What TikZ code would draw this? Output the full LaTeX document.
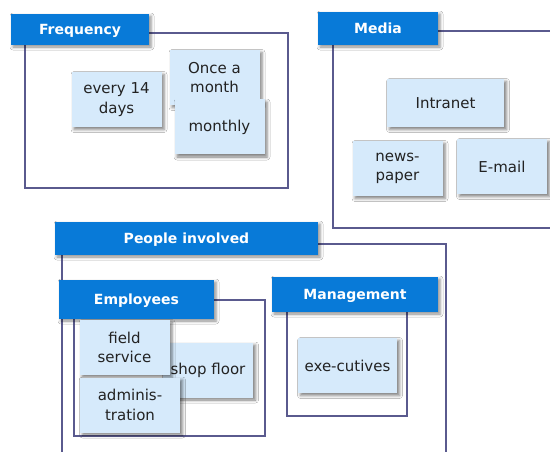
\documentclass[tikz,border=0pt]{standalone}
\usepackage{fontspec}
\setmainfont{DejaVu Sans}
\usetikzlibrary{shadows.blur}

\definecolor{headblue}{RGB}{8,122,216}
\definecolor{cardblue}{RGB}{214,234,251}
\definecolor{framecol}{RGB}{90,90,142}
\definecolor{textgray}{RGB}{34,34,34}

\begin{document}
\begin{tikzpicture}[x=1pt,y=-1pt,
  frame/.style = {draw=framecol, line width=1.4pt},
  head/.style = {fill=headblue, text=white, font=\fontsize{14}{16}\selectfont\bfseries,
    inner sep=0pt, text height=10pt, text depth=0pt,
    blur shadow={shadow xshift=2pt, shadow yshift=-2pt,
    shadow blur radius=3pt, shadow opacity=45}},
  card/.style = {fill=cardblue, text=textgray, font=\fontsize{15}{19.5}\selectfont,
    align=center, inner sep=0pt, minimum height=55pt, minimum width=90pt,
    blur shadow={shadow xshift=2.5pt, shadow yshift=-2.5pt,
    shadow blur radius=3pt, shadow opacity=50}},
]
\clip (0,0) rectangle (550,452);
\fill[white] (0,0) rectangle (550,452);

% frames
\draw[frame] (25,33) rectangle (288,188);
\draw[frame] (333,31) rectangle (570,228);
\draw[frame] (62,244) rectangle (446,480);
\draw[frame] (74,300) rectangle (265,436);
\draw[frame] (287,305) rectangle (407,416);

% frequency
\node[head, minimum width=138pt, minimum height=31pt] (freq) at (80,29.5) {Frequency};
\node[card] (days) at (116.5,99.5) {every 14\\days};
\node[card] (once) at (214.5,77.5) {Once a\\month};
\node[card] (monthly) at (219.5,127) {monthly};

% media
\node[head, minimum width=120pt, minimum height=33pt] (media) at (378,28.5) {Media};
\node[card, minimum width=117pt, minimum height=48pt] (intranet) at (445.5,103) {Intranet};
\node[card] (paper) at (397.5,168.5) {news-\\paper};
\node[card] (email) at (502,166.5) {E-mail};

% people
\node[head, minimum width=263pt, minimum height=33pt] (people) at (186.5,238.5) {People involved};
\node[head, minimum width=155pt, minimum height=39pt] (staff) at (136.5,299.5) {Employees};
\node[head, minimum width=166pt, minimum height=35pt] (mgmt) at (355,294.5) {Management};

\node[card] (shop) at (208,370) {shop floor};
\node[card] (field) at (124.5,347.5) {field\\service};
\node[card, minimum width=100pt] (admin) at (130,405) {adminis-\\tration};
\node[card, minimum width=99pt] (exec) at (347.5,365.5) {exe-cutives};
\end{tikzpicture}
\end{document}
